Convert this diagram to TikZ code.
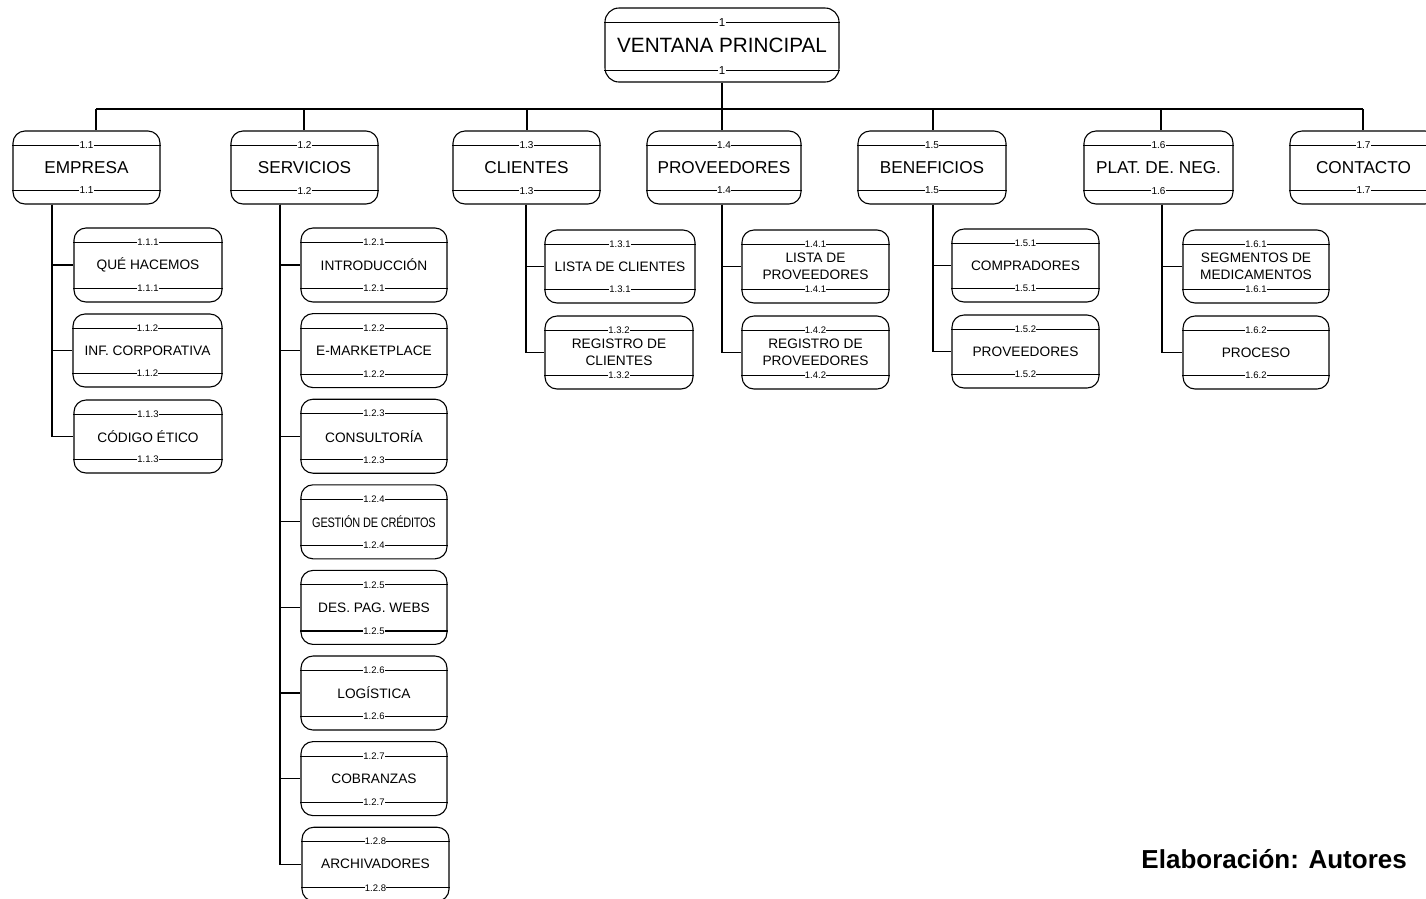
\documentclass[tikz,border=0pt]{standalone}
\usepackage{fontspec}
\usepackage{graphicx}
\setmainfont{Liberation Sans}
\newcommand\wbs[9]{% name, x1, y1, x2, y2, text, number, style, bottom offset
  \node[box,#8, minimum width={#4-#2}, minimum height={#5-#3}] (#1) at ({(#2+#4)/2},{(#3+#5)/2}) {#6};
  \draw[band] ([yshift=-15pt]#1.north west) -- node[numlab,#8num] (#1nt) {#7} ([yshift=-15pt]#1.north east);
  \draw[band] ([yshift=#9pt]#1.south west) -- node[numlab,#8num] (#1nb) {#7} ([yshift=#9pt]#1.south east);
}
\begin{document}
\begin{tikzpicture}[x=1pt,y=-1pt,
  box/.style={draw, rounded corners=12pt, line width=1.1pt, align=center, inner sep=0pt},
  band/.style={line width=1.1pt},
  conn/.style={line width=1.1pt},
  numlab/.style={fill=white, inner sep=0.4pt},
  lvzero/.style={font=\fontsize{20.7}{24}\selectfont, rounded corners=14pt},
  lvone/.style={font=\fontsize{17.2}{20}\selectfont},
  lvtwo/.style={font=\fontsize{13.7}{17}\selectfont},
  lvzeronum/.style={font=\fontsize{11.5}{12}\selectfont},
  lvonenum/.style={font=\fontsize{10}{11}\selectfont},
  lvtwonum/.style={font=\fontsize{9.5}{10}\selectfont}
]
\useasboundingbox (0,0) rectangle (1426,898);

% root
\wbs{root}{605}{8}{839}{82}{VENTANA PRINCIPAL}{1}{lvzero}{12}

% level 1
\wbs{e1}{13}{131}{160}{204}{EMPRESA}{1.1}{lvone}{14}
\wbs{e2}{231}{131}{378}{204}{SERVICIOS}{1.2}{lvone}{14}
\wbs{e3}{453}{131}{600}{204}{CLIENTES}{1.3}{lvone}{14}
\wbs{e4}{647}{131}{801}{204}{PROVEEDORES}{1.4}{lvone}{14}
\wbs{e5}{858}{131}{1006}{204}{BENEFICIOS}{1.5}{lvone}{14}
\wbs{e6}{1084}{131}{1233}{204}{PLAT. DE. NEG.}{1.6}{lvone}{14}
\wbs{e7}{1290}{131}{1437}{204}{CONTACTO}{1.7}{lvone}{14}

% level 2 - empresa
\wbs{e11}{74}{228}{222}{302}{QUÉ HACEMOS}{1.1.1}{lvtwo}{14}
\wbs{e12}{73}{314}{222}{387}{INF. CORPORATIVA}{1.1.2}{lvtwo}{14}
\wbs{e13}{74}{400}{222}{473}{CÓDIGO ÉTICO}{1.1.3}{lvtwo}{14}

% level 2 - servicios
\wbs{e21}{301}{228}{447}{302}{INTRODUCCIÓN}{1.2.1}{lvtwo}{14}
\wbs{e22}{301}{313.6}{447}{387.6}{E-MARKETPLACE}{1.2.2}{lvtwo}{14}
\wbs{e23}{301}{399.2}{447}{473.2}{CONSULTORÍA}{1.2.3}{lvtwo}{14}
\wbs{e24}{301}{484.8}{447}{558.8}{\scalebox{0.8}[1]{\addfontfeature{LetterSpace=-2}GESTIÓN DE CRÉDITOS}}{1.2.4}{lvtwo}{14}
\wbs{e25}{301}{570.4}{447}{644.4}{DES. PAG. WEBS}{1.2.5}{lvtwo}{14}
\wbs{e26}{301}{656}{447}{730}{LOGÍSTICA}{1.2.6}{lvtwo}{14}
\wbs{e27}{301}{741.6}{447}{815.6}{COBRANZAS}{1.2.7}{lvtwo}{14}
\wbs{e28}{302}{827.2}{449}{901.2}{ARCHIVADORES}{1.2.8}{lvtwo}{14}

% level 2 - clientes
\wbs{e31}{545}{230}{695}{303}{LISTA DE CLIENTES}{1.3.1}{lvtwo}{14}
\wbs{e32}{545}{316}{693}{389}{REGISTRO DE\\CLIENTES}{1.3.2}{lvtwo}{14}

% level 2 - proveedores
\wbs{e41}{742}{230}{889}{303}{LISTA DE\\PROVEEDORES}{1.4.1}{lvtwo}{14}
\wbs{e42}{742}{316}{889}{389}{REGISTRO DE\\PROVEEDORES}{1.4.2}{lvtwo}{14}

% level 2 - beneficios
\wbs{e51}{952}{229}{1099}{302}{COMPRADORES}{1.5.1}{lvtwo}{14}
\wbs{e52}{952}{315}{1099}{388}{PROVEEDORES}{1.5.2}{lvtwo}{14}

% level 2 - plataforma
\wbs{e61}{1183}{230}{1329}{303}{SEGMENTOS DE\\MEDICAMENTOS}{1.6.1}{lvtwo}{14}
\wbs{e62}{1183}{316}{1329}{389}{PROCESO}{1.6.2}{lvtwo}{14}

% bus and drops
\coordinate (d1) at (96,109);
\coordinate (d2) at (304,109);
\coordinate (d3) at (527,109);
\coordinate (d4) at (722,109);
\coordinate (d5) at (933,109);
\coordinate (d6) at (1161,109);
\coordinate (d7) at (1363,109);
\draw[conn] (d1) -- (d7);
\draw[conn] (root.south -| d4) -- (d4);
\foreach \i in {1,...,7}{\draw[conn] (d\i) -- (d\i |- e\i.north);}

% trunks
\coordinate (t1) at (52,204);
\coordinate (t2) at (280,204);
\coordinate (t3) at (526,204);
\coordinate (t4) at (722,204);
\coordinate (t5) at (933,204);
\coordinate (t6) at (1162,204);
\foreach \c in {1,2,3}{\draw[conn] (t1 |- e1.south) |- (e1\c.west);}
\foreach \c in {1,...,8}{\draw[conn] (t2 |- e2.south) |- (e2\c.west);}
\foreach \p in {3,4,5,6}{\foreach \c in {1,2}{\draw[conn] (t\p |- e\p.south) |- (e\p\c.west);}}

\node[font=\bfseries\fontsize{26}{30}\selectfont, anchor=base east, inner sep=0pt] (credit) at (1407,868) {Elaboración: Autores};
\end{tikzpicture}
\end{document}
